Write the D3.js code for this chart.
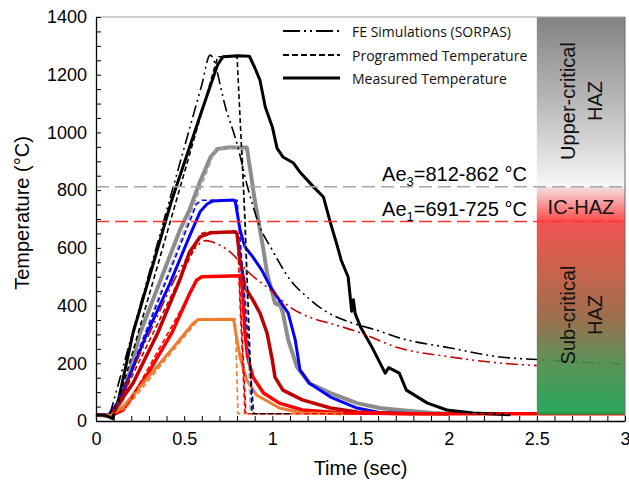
<!DOCTYPE html>
<html>
<head>
<meta charset="utf-8">
<script src="https://cdn.jsdelivr.net/npm/d3@7"></script>
<style>
  body { margin: 0; background: #fff; }
  svg { display: block; }
</style>
</head>
<body>
<svg width="629" height="484"></svg>
<script>
// ---- data: [time (s), temperature (°C)] ----
var bkMeas = [[0,22],[0.05,20],[0.095,8],[0.13,80],[0.21,305],[0.43,766],[0.6,1075],[0.69,1235],[0.72,1262],[0.8,1266],[0.87,1264],[0.9,1225],[0.93,1181],[0.96,1088],[1.0,1019],[1.027,945],[1.06,915],[1.12,894],[1.16,860],[1.24,807],[1.29,776],[1.33,686],[1.37,603],[1.39,558],[1.43,499],[1.44,440],[1.45,380],[1.46,420],[1.47,372],[1.5,326],[1.565,256],[1.64,166],[1.66,185],[1.72,166],[1.76,107],[1.88,62],[1.99,38],[2.14,28],[2.35,22]];
var bkProg = [[0,22],[0.09,16],[0.11,30],[0.69,1262],[0.8,1262],[0.845,700],[0.885,25],[1.1,25]];
var bkFe   = [[0.08,25],[0.2,290],[0.476,894],[0.6,1165],[0.647,1268],[0.74,1075],[0.8,960],[0.86,810],[0.93,672],[1.0,592],[1.1,490],[1.2,428],[1.29,385],[1.46,338],[1.59,315],[1.72,288],[2.01,253],[2.29,222],[2.5,213],[2.75,204],[3.0,198]];

var grMeas = [[0,22],[0.09,16],[0.15,73],[0.25,305],[0.476,662],[0.53,731],[0.59,830],[0.65,915],[0.69,943],[0.75,948],[0.855,948],[0.875,870],[0.9,766],[0.92,697],[0.95,592],[0.97,513],[1.015,409],[1.03,403],[1.04,412],[1.06,374],[1.09,281],[1.14,187],[1.21,131],[1.33,97],[1.48,62],[1.61,45],[1.72,38],[1.91,28],[2.0,25]];
var grProg = [[0.1,25],[0.68,945],[0.83,945],[0.875,25]];

var blMeas = [[0,22],[0.07,20],[0.136,73],[0.29,305],[0.42,478],[0.53,640],[0.59,725],[0.63,752],[0.66,762],[0.78,766],[0.79,760],[0.817,662],[0.845,603],[0.89,568],[0.94,523],[0.99,464],[1.04,419],[1.09,374],[1.13,281],[1.157,177],[1.21,131],[1.33,83],[1.48,45],[1.6,30],[1.8,25]];
var blProg = [[0.1,25],[0.57,752],[0.6,765],[0.8,765],[0.895,25]];

var drMeas = [[0,22],[0.08,18],[0.21,131],[0.35,305],[0.476,490],[0.53,585],[0.59,638],[0.65,652],[0.79,656],[0.8,648],[0.817,558],[0.845,464],[0.89,419],[0.93,374],[0.97,305],[1.0,211],[1.015,152],[1.06,107],[1.17,73],[1.33,45],[1.48,31],[1.7,26],[2.0,25]];
var drProg = [[0.1,25],[0.6,650],[0.63,655],[0.8,655],[0.85,25]];
var drFe   = [[0.1,25],[0.3,300],[0.55,590],[0.62,625],[0.66,620],[0.76,586],[0.87,513],[0.99,454],[1.1,395],[1.21,360],[1.33,338],[1.47,312],[1.72,253],[2.01,222],[2.29,201],[2.5,192]];

var rdMeas = [[0,22],[0.08,18],[0.153,38],[0.3,170],[0.43,305],[0.53,440],[0.57,488],[0.6,500],[0.82,503],[0.83,464],[0.845,305],[0.86,222],[0.89,152],[0.95,97],[1.04,62],[1.17,38],[1.4,28],[1.8,25],[3.0,25]];
var rdProg = [[0.1,25],[0.17,45],[0.58,492],[0.61,503],[0.81,503],[0.845,25],[3.0,25]];

var orMeas = [[0,22],[0.08,18],[0.155,50],[0.3,155],[0.44,256],[0.55,338],[0.58,352],[0.78,353],[0.79,315],[0.817,222],[0.855,142],[0.91,90],[1.04,45],[1.17,28],[1.4,25]];
var orProg = [[0.1,25],[0.17,45],[0.57,343],[0.6,352],[0.79,352],[0.805,25],[1.2,25]];

var xTicks = [0, 0.5, 1, 1.5, 2, 2.5, 3];
var yTicks = [0, 200, 400, 600, 800, 1000, 1200, 1400];
var ae3 = 812, ae1 = 691;
var legendLabels = ["FE Simulations (SORPAS)", "Programmed Temperature", "Measured Temperature"];

// ---- layout ----
var svg = d3.select("svg");
var pLeft = 96, pRight = 625, pTop = 17, pBottom = 421;

var x = d3.scaleLinear().domain([0, 3]).range([pLeft, pRight]);
var y = d3.scaleLinear().domain([0, 1400]).range([pBottom, pTop]);

var line = d3.line().x(function (d) { return x(d[0]); }).y(function (d) { return y(d[1]); });
var smooth = d3.line().curve(d3.curveMonotoneX).x(function (d) { return x(d[0]); }).y(function (d) { return y(d[1]); });

var FE_DASH = "12,4,2,4,2,4";
var PROG_DASH = "5,3";

// measured (thick solid)
var measured = [
  { d: grMeas, c: "#8c8c8c", w: 4 },
  { d: blMeas, c: "#0000ff", w: 3 },
  { d: drMeas, c: "#c00000", w: 3.5 },
  { d: rdMeas, c: "#ff0000", w: 3.5 },
  { d: orMeas, c: "#ed7d31", w: 3 },
  { d: bkMeas, c: "#000000", w: 3 }
];
var programmed = [
  { d: grProg, c: "#a6a6a6" },
  { d: blProg, c: "#0000ff" },
  { d: drProg, c: "#c00000" },
  { d: rdProg, c: "#ff0000" },
  { d: orProg, c: "#ed7d31" },
  { d: bkProg, c: "#000000" }
];
var fe = [
  { d: drFe, c: "#c00000" },
  { d: bkFe, c: "#000000" }
];

var g = svg.append("g");

measured.forEach(function (s) {
  g.append("path").attr("d", line(s.d)).attr("fill", "none")
    .attr("stroke", s.c).attr("stroke-width", s.w).attr("stroke-linejoin", "round");
});
programmed.forEach(function (s) {
  g.append("path").attr("d", line(s.d)).attr("fill", "none")
    .attr("stroke", s.c).attr("stroke-width", 1.6).attr("stroke-dasharray", PROG_DASH);
});
fe.forEach(function (s) {
  g.append("path").attr("d", smooth(s.d)).attr("fill", "none")
    .attr("stroke", s.c).attr("stroke-width", 1.6).attr("stroke-dasharray", FE_DASH);
});

// ---- HAZ band (drawn over the lines, slightly see-through) ----
var bandLow = 22;
function off(T) { return ((1400 - T) / (1400 - bandLow) * 100) + "%"; }
var grad = svg.append("defs").append("linearGradient")
  .attr("id", "haz").attr("x1", 0).attr("x2", 0).attr("y1", 0).attr("y2", 1);
[
  [1400, "#7a7a7a"], [1100, "#b4b4b4"], [830, "#f2f2f2"], [ae3, "#f8f8f8"],
  [ae3, "#f2dcdc"], [760, "#f79a9a"], [ae1, "#ff3c3c"],
  [ae1, "#f24646"], [520, "#c4583f"], [360, "#976341"], [200, "#4f8c4b"], [bandLow, "#17a24f"]
].forEach(function (s) {
  grad.append("stop").attr("offset", off(s[0])).attr("stop-color", s[1]);
});
svg.append("rect")
  .attr("x", x(2.5)).attr("y", y(1400))
  .attr("width", x(3) - x(2.5)).attr("height", y(bandLow) - y(1400))
  .attr("fill", "url(#haz)").attr("opacity", 0.93);

// Ae lines
svg.append("line").attr("x1", pLeft).attr("x2", pRight).attr("y1", y(ae3)).attr("y2", y(ae3))
  .attr("stroke", "#a6a6a6").attr("stroke-width", 1.5).attr("stroke-dasharray", "13,6");
svg.append("line").attr("x1", pLeft).attr("x2", pRight).attr("y1", y(ae1)).attr("y2", y(ae1))
  .attr("stroke", "#ff3333").attr("stroke-width", 1.5).attr("stroke-dasharray", "13,6");

function aeLabel(sub, range, yy) {
  var t = svg.append("text").attr("x", x(2.5) - 10).attr("y", yy)
    .attr("text-anchor", "end").attr("font-family", "Liberation Sans, Arial, sans-serif")
    .attr("font-size", 20).attr("fill", "#000");
  t.append("tspan").text("Ae");
  t.append("tspan").attr("font-size", 13).attr("dy", 5).text(sub);
  t.append("tspan").attr("dy", -5).text("=" + range + " \u00b0C");
}
aeLabel("3", "812-862", y(ae3) - 6);
aeLabel("1", "691-725", y(ae1) - 6);

// band labels
var bx = (x(2.5) + x(3)) / 2;
function vLabel(lines, cy) {
  lines.forEach(function (s, i) {
    svg.append("text")
      .attr("transform", "translate(" + (bx - 13 + i * 27) + "," + cy + ") rotate(-90)")
      .attr("text-anchor", "middle").attr("dominant-baseline", "central")
      .attr("font-family", "Liberation Sans, Arial, sans-serif").attr("font-size", 20)
      .attr("fill", "#111").text(s);
  });
}
vLabel(["Upper-critical", "HAZ"], 101);
vLabel(["Sub-critical", "HAZ"], 315);
svg.append("text").attr("x", bx).attr("y", 207).attr("text-anchor", "middle")
  .attr("dominant-baseline", "central")
  .attr("font-family", "Liberation Sans, Arial, sans-serif").attr("font-size", 20)
  .attr("fill", "#111").text("IC-HAZ");

// frame
svg.append("line").attr("x1", pLeft).attr("x2", pRight).attr("y1", pTop).attr("y2", pTop)
  .attr("stroke", "#a0a0a0").attr("stroke-width", 1);
svg.append("line").attr("x1", pRight).attr("x2", pRight).attr("y1", pTop).attr("y2", pBottom)
  .attr("stroke", "#6a6a6a").attr("stroke-width", 1);

// ---- axes ----
var font = "Liberation Sans, Arial, sans-serif";
var yAxis = d3.axisLeft(y)
  .tickValues(d3.range(0, 1401, 50))
  .tickSizeInner(-5).tickSizeOuter(0).tickPadding(9)
  .tickFormat(function (d) { return yTicks.indexOf(d) >= 0 ? d : ""; });
var gy = svg.append("g").attr("transform", "translate(" + pLeft + ",0)").call(yAxis);

var xAxis = d3.axisBottom(x)
  .tickValues(d3.range(0, 31).map(function (i) { return i / 10; }))
  .tickSizeInner(-5).tickSizeOuter(0).tickPadding(11)
  .tickFormat(function (d) {
    var hit = xTicks.filter(function (v) { return Math.abs(v - d) < 1e-6; });
    return hit.length ? String(hit[0]) : "";
  });
var gx = svg.append("g").attr("transform", "translate(0," + pBottom + ")").call(xAxis);

[gx, gy].forEach(function (a) {
  a.selectAll("text").attr("font-family", font).attr("font-size", 18).attr("fill", "#000");
  a.select(".domain").attr("stroke", "#000").attr("stroke-width", 1.3);
  a.selectAll(".tick line").attr("stroke", "#000").attr("stroke-width", 1);
});

svg.append("text").attr("x", (pLeft + pRight) / 2).attr("y", 475).attr("text-anchor", "middle")
  .attr("font-family", font).attr("font-size", 20).text("Time (sec)");
svg.append("text").attr("transform", "translate(29,213) rotate(-90)").attr("text-anchor", "middle")
  .attr("font-family", font).attr("font-size", 20).text("Temperature (\u00b0C)");

// ---- legend ----
var lx0 = 283, lx1 = 340, lt = 352;
var rows = [31, 55, 78];
var styles = [
  { dash: "17,4,2,4,2,4", w: 2 },
  { dash: "6,3", w: 2 },
  { dash: null, w: 3 }
];
rows.forEach(function (ry, i) {
  var l = svg.append("line").attr("x1", lx0).attr("x2", lx1).attr("y1", ry).attr("y2", ry)
    .attr("stroke", "#000").attr("stroke-width", styles[i].w);
  if (styles[i].dash) l.attr("stroke-dasharray", styles[i].dash);
  svg.append("text").attr("x", lt).attr("y", ry).attr("dominant-baseline", "central")
    .attr("font-family", "Open Sans, sans-serif").attr("font-size", 14)
    .attr("fill", "#111").text(legendLabels[i]);
});
</script>
</body>
</html>
